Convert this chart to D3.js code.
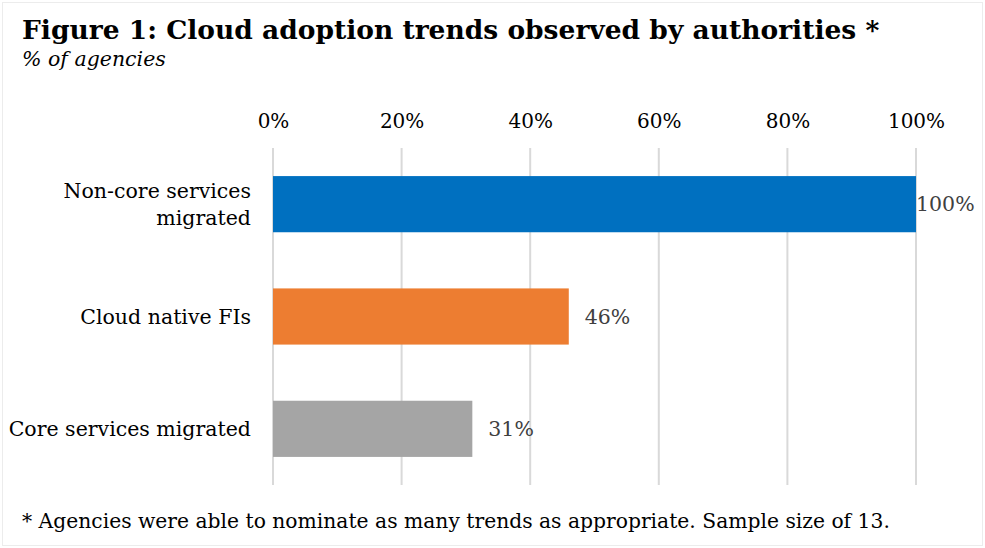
<!DOCTYPE html>
<html>
<head>
<meta charset="utf-8">
<script src="https://cdn.jsdelivr.net/npm/d3@7"></script>
<style>
  html, body { margin: 0; padding: 0; background: #fff; }
  svg { display: block; }
  text { font-family: Georgia, "DejaVu Serif", serif; }
</style>
</head>
<body>
<svg id="chart" width="985" height="548"></svg>
<script>
// data
const categories = ['Non-core services migrated', 'Cloud native FIs', 'Core services migrated'];
const labelLines = [['Non-core services', 'migrated'], ['Cloud native FIs'], ['Core services migrated']];
const values = [100, 46, 31];
const barColors = ['#0070c0', '#ed7d31', '#a5a5a5'];
const tickValues = [0, 20, 40, 60, 80, 100];

const svg = d3.select('#chart');
const W = 985, H = 548;

// outer frame
svg.append('rect')
  .attr('x', 2.5).attr('y', 2.5)
  .attr('width', W - 5).attr('height', H - 5)
  .attr('fill', '#fff')
  .attr('stroke', '#ececec');

// title + subtitle
svg.append('text')
  .attr('x', 22).attr('y', 39)
  .attr('font-size', 26.5)
  .attr('font-weight', 'bold')
  .attr('fill', '#000')
  .text('Figure 1: Cloud adoption trends observed by authorities *');

svg.append('text')
  .attr('x', 22).attr('y', 66)
  .attr('font-size', 20.5)
  .attr('font-style', 'italic')
  .attr('fill', '#000')
  .text('% of agencies');

const plot = { left: 273, right: 916, top: 148, bottom: 485 };

const x = d3.scaleLinear().domain([0, 100]).range([plot.left, plot.right]);
const y = d3.scaleBand().domain(categories).range([plot.top, plot.bottom]).paddingInner(0.5).paddingOuter(0.25);

// gridlines
svg.append('g')
  .selectAll('line')
  .data(tickValues)
  .join('line')
  .attr('x1', d => x(d)).attr('x2', d => x(d))
  .attr('y1', plot.top).attr('y2', plot.bottom)
  .attr('stroke', '#d9d9d9')
  .attr('stroke-width', 2);

// top axis labels
const xAxis = d3.axisTop(x)
  .tickValues(tickValues)
  .tickFormat(d => d + '%')
  .tickSize(0)
  .tickPadding(0);

const gx = svg.append('g')
  .attr('transform', `translate(0,${128})`)
  .call(xAxis);
gx.select('.domain').remove();
gx.selectAll('text')
  .attr('font-family', 'Georgia, "DejaVu Serif", serif')
  .attr('font-size', 20)
  .attr('fill', '#000')
  .attr('dy', 0);

// bars
svg.append('g')
  .selectAll('rect')
  .data(categories)
  .join('rect')
  .attr('x', x(0))
  .attr('y', d => y(d))
  .attr('width', (d, i) => x(values[i]) - x(0))
  .attr('height', y.bandwidth())
  .attr('fill', (d, i) => barColors[i]);

// value labels
svg.append('g')
  .selectAll('text')
  .data(categories)
  .join('text')
  .attr('x', (d, i) => x(values[i]) + (values[i] === 100 ? 0 : 16))
  .attr('y', d => y(d) + y.bandwidth() / 2)
  .attr('dy', '0.35em')
  .attr('font-size', 20.5)
  .attr('fill', '#404040')
  .text((d, i) => values[i] + '%');

// category labels
const catG = svg.append('g')
  .selectAll('text')
  .data(categories)
  .join('text')
  .attr('text-anchor', 'end')
  .attr('font-size', 20.5)
  .attr('fill', '#000')
  .attr('x', 251)
  .attr('y', d => y(d) + y.bandwidth() / 2);

catG.each(function(d, i) {
  const lines = labelLines[i];
  const lh = 27;
  const start = -(lines.length - 1) * lh / 2;
  d3.select(this).selectAll('tspan')
    .data(lines)
    .join('tspan')
    .attr('x', 251)
    .attr('dy', (l, j) => j === 0 ? (start + 7) : lh)
    .text(l => l);
});

// footnote
svg.append('text')
  .attr('x', 22).attr('y', 528)
  .attr('font-size', 20.3)
  .attr('fill', '#000')
  .text('* Agencies were able to nominate as many trends as appropriate. Sample size of 13.');
</script>
</body>
</html>
